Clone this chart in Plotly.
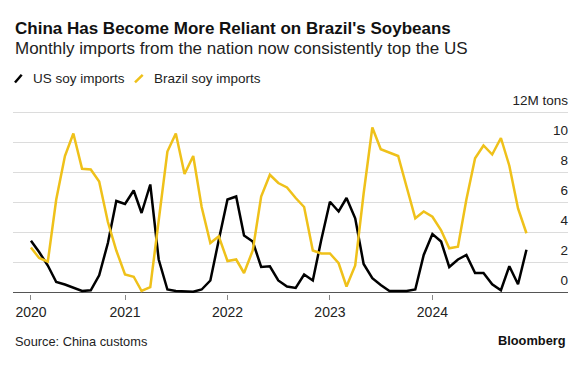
import plotly.graph_objects as go
import pandas as pd

# Monthly data, Feb 2020 (Jan-Feb combined) through Dec 2024, million tons
months = pd.date_range("2020-02-01", "2024-12-01", freq="MS")

us_soy = [3.45, 2.7, 1.8, 0.7, 0.53, 0.33, 0.1, 0.15, 1.15, 3.3,
          6.1, 5.9, 6.8, 5.3, 7.2, 2.2, 0.2, 0.1, 0.05, 0.05,
          0.2, 0.8, 3.5, 6.2, 6.4, 3.8, 3.4, 1.7, 1.75, 0.8,
          0.4, 0.3, 1.2, 0.8, 3.5, 6.05, 5.4, 6.3, 4.95, 1.9,
          0.95, 0.5, 0.1, 0.1, 0.1, 0.2, 2.5, 3.9, 3.4, 1.7,
          2.2, 2.5, 1.3, 1.3, 0.55, 0.15, 1.75, 0.55, 2.85]

brazil_soy = [3.0, 2.3, 2.05, 6.2, 9.1, 10.6, 8.25, 8.2, 7.4, 4.7,
              2.8, 1.2, 1.05, 0.1, 0.35, 4.8, 9.4, 10.6, 7.9, 9.1,
              5.7, 3.3, 3.75, 2.1, 2.2, 1.3, 2.8, 6.4, 7.85, 7.3,
              7.0, 6.3, 5.7, 2.8, 2.6, 2.6, 1.95, 0.4, 1.8, 6.6,
              11.0, 9.55, 9.3, 9.1, 7.05, 4.95, 5.4, 5.05, 4.15, 2.95,
              3.05, 6.2, 8.95, 9.8, 9.2, 10.3, 8.45, 5.6, 3.95]

year_ticks = ["2020-02-01", "2021-01-01", "2022-01-01", "2023-01-01", "2024-01-01"]
year_labels = ["2020", "2021", "2022", "2023", "2024"]
y_ticks = [0, 2, 4, 6, 8, 10, 12]
y_labels = ["0", "2", "4", "6", "8", "10", "12M tons"]

title = "China Has Become More Reliant on Brazil's Soybeans"
subtitle = "Monthly imports from the nation now consistently top the US"
source = "Source: China customs"

BLACK = "#000000"
YELLOW = "#EFC11A"
FONT = "Liberation Sans, Arial, sans-serif"

W, H = 586, 368
L, R = 13, 568
Y_LO, Y_HI = -0.1, 13.5
PX_PER_UNIT = 14.97
ZERO_PX = 292.3
BOT = ZERO_PX - Y_LO * PX_PER_UNIT
TOP = ZERO_PX - Y_HI * PX_PER_UNIT


def px(x):
    return (x - L) / (R - L)


def py(y):
    return (BOT - y) / (BOT - TOP)


fig = go.Figure()
fig.add_trace(go.Scatter(x=months, y=us_soy, mode="lines", name="US soy imports",
                         line=dict(color=BLACK, width=2.5), showlegend=False))
fig.add_trace(go.Scatter(x=months, y=brazil_soy, mode="lines", name="Brazil soy imports",
                         line=dict(color=YELLOW, width=2.5), showlegend=False))

fig.update_layout(
    width=W, height=H,
    margin=dict(l=L, r=W - R, t=TOP, b=H - BOT, autoexpand=False),
    paper_bgcolor="white", plot_bgcolor="white",
    font=dict(family=FONT, color="#222"),
    xaxis=dict(
        type="date", automargin=False,
        range=["2019-11-29", "2025-04-28"],
        tickvals=year_ticks, ticktext=year_labels,
        showgrid=False, zeroline=False, showline=False,
        ticks="outside", ticklen=5, tickcolor="#888", tickwidth=1,
        tickfont=dict(size=14, color="#222"),
    ),
    yaxis=dict(
        side="right", automargin=False,
        range=[Y_LO, Y_HI],
        tickvals=y_ticks, ticktext=y_labels,
        ticklabelposition="inside",
        ticklabelshift=-12,
        ticklabelstandoff=-3,
        showgrid=True, gridcolor="#dcdcdc", gridwidth=1,
        zeroline=True, zerolinecolor="#555", zerolinewidth=1,
        showline=False, ticks="",
        tickfont=dict(size=13.5, color="#222"),
    ),
)

annotations = [
    dict(text="<b>" + title + "</b>", x=px(12.5), y=py(29), xanchor="left", yanchor="middle",
         font=dict(size=17, color="#111")),
    dict(text=subtitle, x=px(12.5), y=py(49), xanchor="left", yanchor="middle",
         font=dict(size=17, color="#222")),
    dict(text="US soy imports", x=px(30.5), y=py(78.5), xanchor="left", yanchor="middle",
         font=dict(size=13.5, color="#222")),
    dict(text="Brazil soy imports", x=px(151.5), y=py(78.5), xanchor="left", yanchor="middle",
         font=dict(size=13.5, color="#222")),
    dict(text=source, x=px(12.5), y=py(341.5), xanchor="left", yanchor="middle",
         font=dict(size=12.8, color="#222")),
    dict(text="<b>Bloomberg</b>", x=px(568), y=py(340), xanchor="right", yanchor="middle",
         font=dict(size=12.8, color="#111")),
]
for a in annotations:
    a.update(xref="paper", yref="paper", showarrow=False)
fig.update_layout(annotations=annotations)

fig.add_shape(type="line", xref="paper", yref="paper",
              x0=px(15), y0=py(82.7), x1=px(21.7), y1=py(75),
              line=dict(color=BLACK, width=2.5))
fig.add_shape(type="line", xref="paper", yref="paper",
              x0=px(135), y0=py(82.7), x1=px(142.7), y1=py(75),
              line=dict(color=YELLOW, width=2.5))

fig.write_html(
    "out.html",
    config={"displayModeBar": False},
    post_script="document.body.style.margin='0px';document.body.style.overflow='hidden';",
)
